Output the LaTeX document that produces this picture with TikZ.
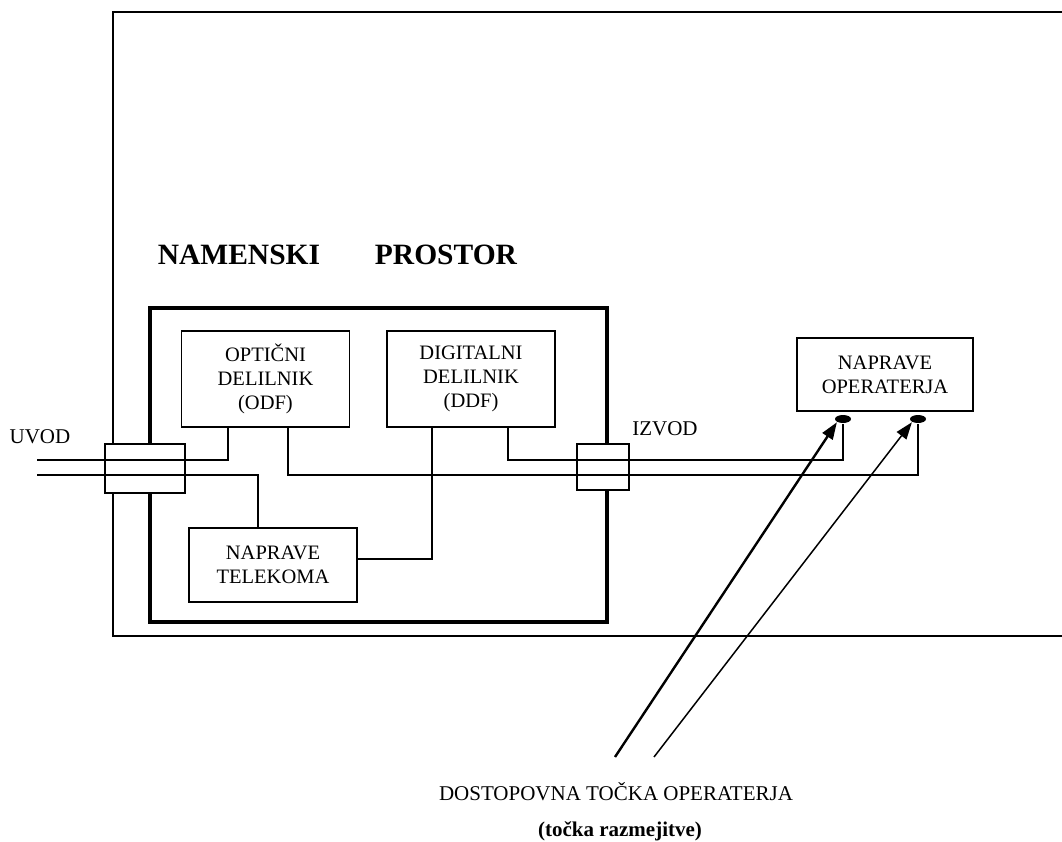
\documentclass[tikz,border=0pt]{standalone}
\usepackage{fontspec}
\setmainfont{Liberation Serif}
\usetikzlibrary{arrows.meta, shapes.geometric}

\begin{document}
\begin{tikzpicture}[x=1pt, y=-1pt, line width=1.3pt,
  box/.style={draw, rectangle, minimum width=168pt, minimum height=96pt, inner sep=0pt, align=center, font=\fontsize{20.5}{24}\selectfont},
  lbl/.style={inner sep=0pt, anchor=base, font=\fontsize{21}{24}\selectfont},
  head/.style={inner sep=0pt, anchor=base, font=\bfseries\fontsize{29.5}{34}\selectfont},
  plug/.style={draw, fill=white, rectangle, inner sep=0pt},
  pin/.style={fill, ellipse, minimum width=16pt, minimum height=8pt, inner sep=0pt},
  pointer/.style={-{Triangle[length=17pt, width=12pt]}}]

\useasboundingbox (0,0) rectangle (1062,842);

% building and dedicated room
\draw (1062,12) -- (113,12) -- (113,636) -- (1062,636);
\draw[line width=4pt] (150,308) rectangle (607,622);

\node[head] (nam) at (239,265) {NAMENSKI}; \node[head] (pro) at (446,265) {PROSTOR};

\node[box] (odf) at (265.5,379) {OPTIČNI\\DELILNIK\\(ODF)};
\node[box] (ddf) at (471,379) {DIGITALNI\\DELILNIK\\(DDF)};
\node[box, minimum height=74pt] (tel) at (273,565) {NAPRAVE\\TELEKOMA};
\node[box, minimum width=176pt, minimum height=73pt] (opr) at (885,374.5) {NAPRAVE\\OPERATERJA};

\node[plug, minimum width=80pt, minimum height=49pt] (in) at (145,468.5) {};
\node[plug, minimum width=52pt, minimum height=46pt] (out) at (603,467) {};

\node[pin] (p1) at (843,419) {}; \node[pin] (p2) at (918,419) {};

\node[lbl] (uvod) at (40,443) {UVOD};
\node[lbl] (izvod) at (665,435) {IZVOD};

\coordinate (u1) at (37,460); \coordinate (u2) at (37,475);

\draw (u1) -| ([xshift=-37.5pt]odf.south);
\draw (u2) -| ([xshift=-15pt]tel.north);
\draw ([xshift=22.5pt]odf.south) |- (u2 -| p2) -- (p2.south);
\draw ([xshift=37pt]ddf.south) |- (u1 -| p1) -- (p1.south);
\draw ([xshift=-39pt]ddf.south) |- ([yshift=6pt]tel.east);

% access points
\coordinate (a1) at (615,757); \coordinate (a2) at (654,757);
\draw[pointer, line width=2.4pt] (a1) -- (p1.south west);
\draw[pointer, line width=1.5pt] (a2) -- (p2.south west);

\node[lbl] (dost) at (616,800) {DOSTOPOVNA TOČKA OPERATERJA};
\node[lbl, font=\bfseries\fontsize{21}{24}\selectfont] (razm) at (620,836) {(točka razmejitve)};

\end{tikzpicture}
\end{document}
